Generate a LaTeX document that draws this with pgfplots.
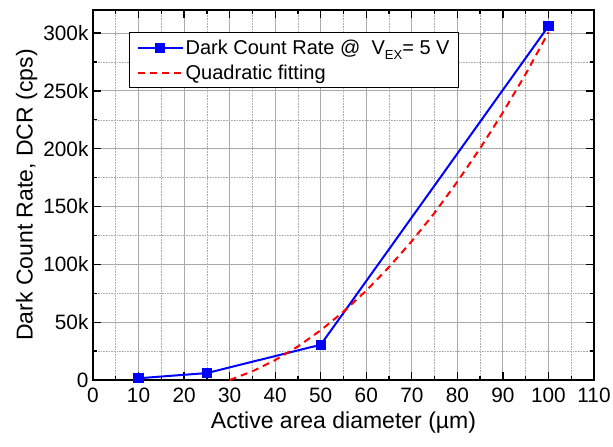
\documentclass[border=0pt]{standalone}
\usepackage{fontspec}
\setmainfont{Liberation Sans}
\usepackage{pgfplots}
\pgfplotsset{compat=1.18}
\definecolor{gridgray}{RGB}{170,170,170}
\begin{document}
\begin{tikzpicture}
\begin{axis}[
  scale only axis,
  width=501pt, height=370pt,
  xmin=0, xmax=110, ymin=0, ymax=320000,
  xtick={0,10,...,110},
  minor xtick={5,15,...,105},
  ytick={0,50000,100000,150000,200000,250000,300000},
  yticklabels={0,50k,100k,150k,200k,250k,300k},
  minor ytick={25000,75000,...,325000},
  scaled y ticks=false,
  /pgf/number format/assume math mode=true,
  tick align=inside,
  xtick pos=both, ytick pos=both,
  major tick length=8pt, minor tick length=4pt,
  every tick/.style={black, line width=1.3pt},
  axis line style={black, line width=1.8pt},
  grid=both,
  major grid style={gridgray, line width=1pt},
  minor grid style={gridgray, line width=0.6pt, densely dotted},
  tick label style={font=\fontsize{20.8}{23}\selectfont},
  xticklabel style={yshift=-4pt},
  yticklabel style={xshift=-1pt},
  xlabel={Active area diameter (µm)},
  ylabel={Dark Count Rate, DCR (cps)},
  label style={font=\fontsize{23}{26}\selectfont},
  xlabel style={yshift=-3pt},
  ylabel style={yshift=-1pt},
  legend style={at={(0.072,0.94)}, anchor=north west, draw=black, line width=1.2pt,
    font=\fontsize{20}{24}\selectfont, inner xsep=7pt, inner ysep=5pt, row sep=5pt,
    cells={anchor=west}},
  legend image code/.code={%
    \draw[#1] (0pt,0pt) -- (45pt,0pt);
    \draw[#1, only marks] plot coordinates {(22.5pt,0pt)};
  },
]
\addplot[blue, line width=2pt, mark=square*, mark size=4.2pt, mark options={solid}]
  coordinates {(10,1500) (25,6000) (50,30500) (100,306000)};
\addlegendentry{Dark Count Rate @\ \ V\raisebox{-0.5ex}{\fontsize{13}{13}\selectfont EX}= 5 V}
\addplot[red, line width=2pt, dash pattern=on 7pt off 5pt, no marks]
  coordinates {(30,0) (35,7540) (40,17200) (45,29000) (50,43000) (55,59100) (60,77300)
  (65,97700) (70,120100) (75,144600) (80,171500) (85,200400) (90,231400) (95,264600) (100,300600)};
\addlegendentry{Quadratic fitting}
\end{axis}
\pgfresetboundingbox
\path ([shift={(-93pt,-67pt)}]current axis.south west) rectangle ([shift={(19pt,10pt)}]current axis.north east);
\end{tikzpicture}
\end{document}
